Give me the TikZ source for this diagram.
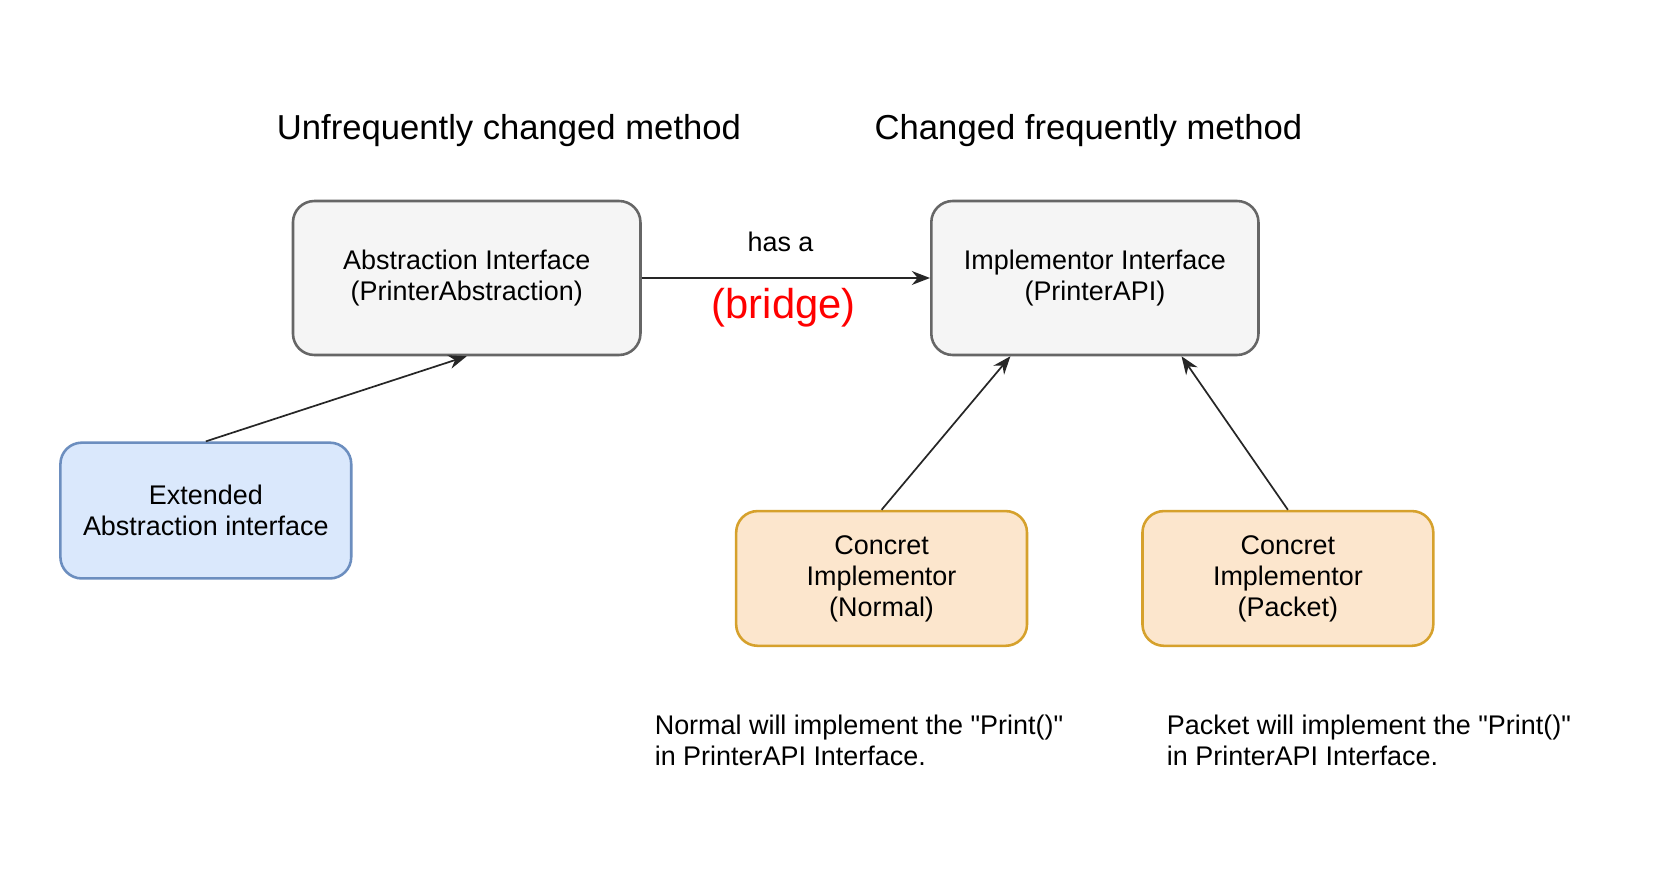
\documentclass[tikz,border=0pt]{standalone}
\usepackage{fontspec}
\setmainfont{Liberation Sans}[Ligatures=TeXOff]
\usetikzlibrary{arrows.meta}
\definecolor{boxgray}{HTML}{F5F5F5}
\definecolor{linegray}{HTML}{666666}
\definecolor{boxblue}{HTML}{DAE8FC}
\definecolor{lineblue}{HTML}{6C8EBF}
\definecolor{boxorange}{HTML}{FCE6CD}
\definecolor{lineorange}{HTML}{D6A12C}
\definecolor{bridgered}{HTML}{FF0000}
\begin{document}
\begin{tikzpicture}[x=0.5pt,y=-0.5pt,
  basebox/.style={draw, rounded corners=10pt, line width=1.2pt, inner sep=0pt, align=center,
    font=\fontsize{12.6}{14.5}\selectfont, text=black},
  graybox/.style={basebox, fill=boxgray, draw=linegray, minimum height=72pt},
  bluebox/.style={basebox, fill=boxblue, draw=lineblue, minimum width=136pt, minimum height=63.5pt},
  orangebox/.style={basebox, fill=boxorange, draw=lineorange, minimum width=136pt, minimum height=63pt},
  heading/.style={font=\fontsize{16.2}{19}\selectfont, inner sep=0pt},
  plaintext/.style={font=\fontsize{12.6}{14.5}\selectfont, inner sep=0pt},
  note/.style={plaintext, align=left, anchor=west},
  conn/.style={draw=black!85, line width=0.8pt, -{Stealth[length=8.5pt,width=6.5pt]}}
]
\useasboundingbox (0,0) rectangle (1560,812);
\fill[white] (0,0) rectangle (1560,812);

\node[heading] (h1) at (476,122) {Unfrequently changed method};
\node[heading] (h2) at (1018,122) {Changed frequently method};

\node[graybox, minimum width=162.5pt] (A) at (436.5,260) {Abstraction Interface\\(PrinterAbstraction)};
\node[graybox, minimum width=153pt] (I) at (1024,260) {Implementor Interface\\(PrinterAPI)};
\node[bluebox] (E) at (192.5,477.5) {Extended\\Abstraction interface};
\node[orangebox] (N) at (824.5,541) {Concret\\Implementor\\(Normal)};
\node[orangebox] (P) at (1204.5,541) {Concret\\Implementor\\(Packet)};

\node[plaintext] (hasa) at (730,226) {has a};
\node[font=\fontsize{19.5}{22}\selectfont, text=bridgered, inner sep=0pt] (bridge) at (733,288) {(bridge)};

\node[note] (nn) at (612,692) {Normal will implement the "Print()"\\in PrinterAPI Interface.};
\node[note] (pn) at (1091,692) {Packet will implement the "Print()"\\in PrinterAPI Interface.};

\draw[conn] (A.east) -- (I.west);
\draw[conn] (E.north) -- (A.south);
\draw[conn] (N.north) -- ([xshift=-39.5pt]I.south);
\draw[conn] (P.north) -- ([xshift=40.5pt]I.south);
\end{tikzpicture}
\end{document}
